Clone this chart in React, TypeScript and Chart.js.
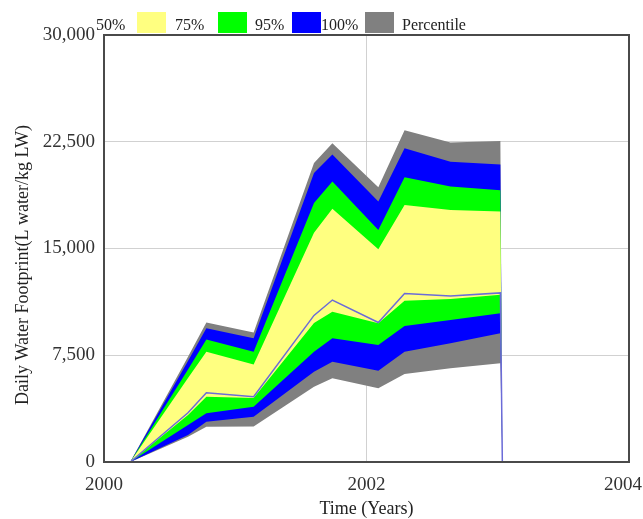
import React, { useEffect, useRef } from 'react';
import { Chart, registerables } from 'chart.js';

Chart.register(...registerables);

// Time points (years)
const years = [2000.2, 2000.64, 2000.78, 2001.14, 2001.6, 2001.74, 2002.09, 2002.29, 2002.64, 2003.02, 2003.035];

// Percentile bounds (L water / kg LW)
const p100Upper = [0, 7400, 9800, 9100, 21000, 22400, 19300, 23300, 22450, 22550, 0];
const p95Upper = [0, 7100, 9400, 8700, 20300, 21600, 18300, 22050, 21100, 20900, 0];
const p75Upper = [0, 6500, 8600, 7750, 18200, 19700, 16300, 20000, 19350, 19100, 0];
const p50Upper = [0, 5900, 7750, 6850, 16100, 17800, 14950, 18050, 17700, 17600, 0];
const median = [0, 3460, 4870, 4590, 10300, 11380, 9800, 11830, 11660, 11880, 0];
const p50Lower = [0, 3300, 4590, 4500, 9770, 10560, 9750, 11330, 11450, 11750, 0];
const p75Lower = [0, 2600, 3420, 3890, 7750, 8690, 8220, 9560, 9980, 10450, 0];
const p95Lower = [0, 1900, 2830, 3180, 6345, 7050, 6415, 7750, 8340, 9040, 0];
const p100Lower = [0, 1780, 2480, 2500, 5290, 5880, 5180, 6180, 6580, 6930, 0];

const yTicks = [0, 7500, 15000, 22500, 30000];
const xTicks = [2000, 2002, 2004];

const legendLabels = ['50%', '75%', '95%', '100%', 'Percentile'];
const legendColors = ['#FFFF80', '#00FF00', '#0000FF', '#808080'];

const yTitle = 'Daily Water Footprint(L water/kg LW)';
const xTitle = 'Time (Years)';

const FONT = '"Liberation Serif", "Times New Roman", serif';

const pts = (vals: number[]) => vals.map((v, i) => ({ x: years[i], y: v }));

const overlayPlugin = {
  id: 'overlay',
  afterDraw(chart: any) {
    const { ctx, chartArea, width } = chart;
    ctx.save();
    // frame
    ctx.strokeStyle = '#4a4a4a';
    ctx.lineWidth = 2;
    ctx.strokeRect(chartArea.left, chartArea.top, chartArea.right - chartArea.left, chartArea.bottom - chartArea.top);
    // x tick labels (kept inside canvas)
    const xs = chart.scales.x;
    ctx.font = `19px ${FONT}`;
    ctx.fillStyle = '#333';
    ctx.textAlign = 'left';
    ctx.textBaseline = 'alphabetic';
    xTicks.forEach((v) => {
      const px = xs.getPixelForValue(v);
      const w = ctx.measureText(String(v)).width;
      let left = px - w / 2;
      if (left + w > width - 1) left = width - 1 - w;
      ctx.fillText(String(v), left, 490);
    });
    // legend
    const textX = [96, 175, 255, 321, 402];
    const swatchX = [137, 218, 292, 365];
    ctx.font = `16px ${FONT}`;
    ctx.fillStyle = '#222';
    legendLabels.forEach((l, i) => ctx.fillText(l, textX[i], 30));
    legendColors.forEach((c, i) => {
      ctx.fillStyle = c;
      ctx.fillRect(swatchX[i], 12, 29, 21);
    });
    // y title
    ctx.fillStyle = '#222';
    ctx.font = `18px ${FONT}`;
    ctx.translate(23, 265);
    ctx.rotate(-Math.PI / 2);
    ctx.textAlign = 'center';
    ctx.textBaseline = 'middle';
    ctx.fillText(yTitle, 0, 0);
    ctx.restore();
  },
};

export default function App() {
  const ref = useRef<HTMLCanvasElement | null>(null);

  useEffect(() => {
    if (!ref.current) return;
    const band = (data: number[], color: string, fill: any, order: number) => ({
      data: pts(data),
      backgroundColor: color,
      borderColor: color,
      borderWidth: 0,
      pointRadius: 0,
      tension: 0,
      fill,
      order,
    });
    const gridColor = (lo: number, hi: number) => (c: any) => {
      const v = c.tick?.value;
      return v > lo && v < hi ? 'rgba(190,190,190,0.7)' : 'rgba(0,0,0,0)';
    };
    const chart = new Chart(ref.current, {
      type: 'line',
      data: {
        datasets: [
          band(p100Upper, '#808080', 1, 4),
          band(p100Lower, '#808080', false, 4),
          band(p95Upper, '#0000FF', 3, 3),
          band(p95Lower, '#0000FF', false, 3),
          band(p75Upper, '#00FF00', 5, 2),
          band(p75Lower, '#00FF00', false, 2),
          band(p50Upper, '#FFFF80', 7, 1),
          band(p50Lower, '#FFFF80', false, 1),
          {
            data: pts(median),
            borderColor: '#6b6bd8',
            borderWidth: 1.5,
            pointRadius: 0,
            tension: 0,
            fill: false,
            order: 0,
          } as any,
        ],
      },
      options: {
        animation: false,
        responsive: false,
        layout: { padding: { top: 35, right: 14, left: 0, bottom: 0 } },
        plugins: { legend: { display: false }, tooltip: { enabled: false } },
        scales: {
          x: {
            type: 'linear',
            min: 2000,
            max: 2004,
            z: 1,
            afterFit: (s: any) => { s.height = 57; s.paddingLeft = 0; s.paddingRight = 0; },
            afterBuildTicks: (s: any) => { s.ticks = xTicks.map((v) => ({ value: v })); },
            grid: { color: gridColor(2000, 2004), drawTicks: false, lineWidth: 1 },
            border: { display: false },
            ticks: { display: false },
            title: {
              display: true,
              text: xTitle,
              color: '#222',
              font: { family: FONT, size: 18 },
              padding: { top: 0, bottom: -1 },
            },
          },
          y: {
            type: 'linear',
            min: 0,
            max: 30000,
            z: 1,
            afterFit: (s: any) => { s.width = 104; s.paddingTop = 0; s.paddingBottom = 0; },
            afterBuildTicks: (s: any) => { s.ticks = yTicks.map((v) => ({ value: v })); },
            grid: { color: gridColor(0, 30000), drawTicks: false, lineWidth: 1 },
            border: { display: false },
            ticks: {
              padding: 9,
              color: '#333',
              font: { family: FONT, size: 19 },
              callback: (v: any) => Number(v).toLocaleString('en-US'),
            },
          },
        },
      },
      plugins: [overlayPlugin],
    });
    return () => chart.destroy();
  }, []);

  return (
    <div style={{ position: 'fixed', left: 0, top: 0, width: 643, height: 519, background: '#fff' }}>
      <canvas ref={ref} width={643} height={519} style={{ display: 'block' }} />
    </div>
  );
}
